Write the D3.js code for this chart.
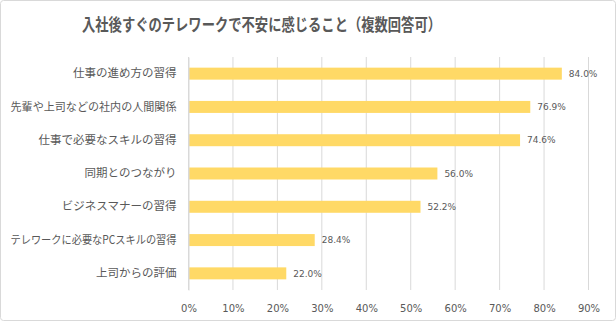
<!DOCTYPE html>
<html><head><meta charset="utf-8">
<script src="https://cdn.jsdelivr.net/npm/d3@7/dist/d3.min.js"></script>
<style>
body{margin:0;background:#fff;}
svg{display:block;font-family:"Noto Sans CJK JP","Noto Sans",sans-serif;}
</style></head><body>
<script>
const categories = ["仕事の進め方の習得","先輩や上司などの社内の人間関係","仕事で必要なスキルの習得","同期とのつながり","ビジネスマナーの習得","テレワークに必要なPCスキルの習得","上司からの評価"];
const values = [84.0, 76.9, 74.6, 56.0, 52.2, 28.4, 22.0];
const tickValues = [0,10,20,30,40,50,60,70,80,90];
const title = "入社後すぐのテレワークで不安に感じること（複数回答可）";

const W = 616, H = 321;
const svg = d3.select("body").append("svg").attr("width", W).attr("height", H);
svg.append("rect").attr("x",0.5).attr("y",0.5).attr("width",W-1).attr("height",H-1)
  .attr("rx",3).attr("fill","#fff").attr("stroke","#d9d9d9");

const x = d3.scaleLinear().domain([0,90]).range([188.5,588.5]);
const y = d3.scaleBand().domain(categories).range([57,290]).paddingInner(0.64).paddingOuter(0.32);

// gridlines
svg.append("g").selectAll("line").data(tickValues).join("line")
  .attr("x1",d=>x(d)).attr("x2",d=>x(d)).attr("y1",57).attr("y2",290)
  .attr("stroke","#d9d9d9").attr("stroke-width",1);

// bars
svg.append("g").selectAll("rect").data(values).join("rect")
  .attr("x",x(0)+0.5).attr("y",(d,i)=>y(categories[i]))
  .attr("width",d=>x(d)-x(0)-0.5).attr("height",y.bandwidth())
  .attr("fill","#ffd966");

// data labels
svg.append("g").selectAll("text").data(values).join("text")
  .attr("x",d=>x(d)+7).attr("y",(d,i)=>y(categories[i])+y.bandwidth()/2)
  .attr("dy","0.36em").attr("fill","#595959")
  .attr("font-family","'DejaVu Sans',sans-serif").attr("font-size",9)
  .text(d=>d.toFixed(1)+"%");

// y axis
const ya = svg.append("g").attr("transform",`translate(${x(0)},0)`)
  .call(d3.axisLeft(y).tickSize(0).tickPadding(12));
ya.select(".domain").attr("stroke","#d9d9d9");
ya.selectAll("text").attr("font-size",11.5).attr("fill","#595959")
  .attr("font-family","'Noto Sans CJK JP',sans-serif")
  .each(function(){
    const len = this.getComputedTextLength();
    if (len > 166) d3.select(this).attr("textLength",166).attr("lengthAdjust","spacingAndGlyphs");
  });

// x axis
const xa = svg.append("g").attr("transform","translate(0,290)")
  .call(d3.axisBottom(x).tickValues(tickValues).tickSize(0).tickPadding(15).tickFormat(d=>d+"%"));
xa.select(".domain").remove();
xa.selectAll("text").attr("font-size",10).attr("fill","#595959")
  .attr("font-family","'DejaVu Sans',sans-serif");

// title
svg.append("text").attr("x",82).attr("y",31).attr("font-size",16.5).attr("font-weight","bold")
  .attr("fill","#595959").attr("textLength",359).attr("lengthAdjust","spacingAndGlyphs").text(title);
</script>
</body></html>
